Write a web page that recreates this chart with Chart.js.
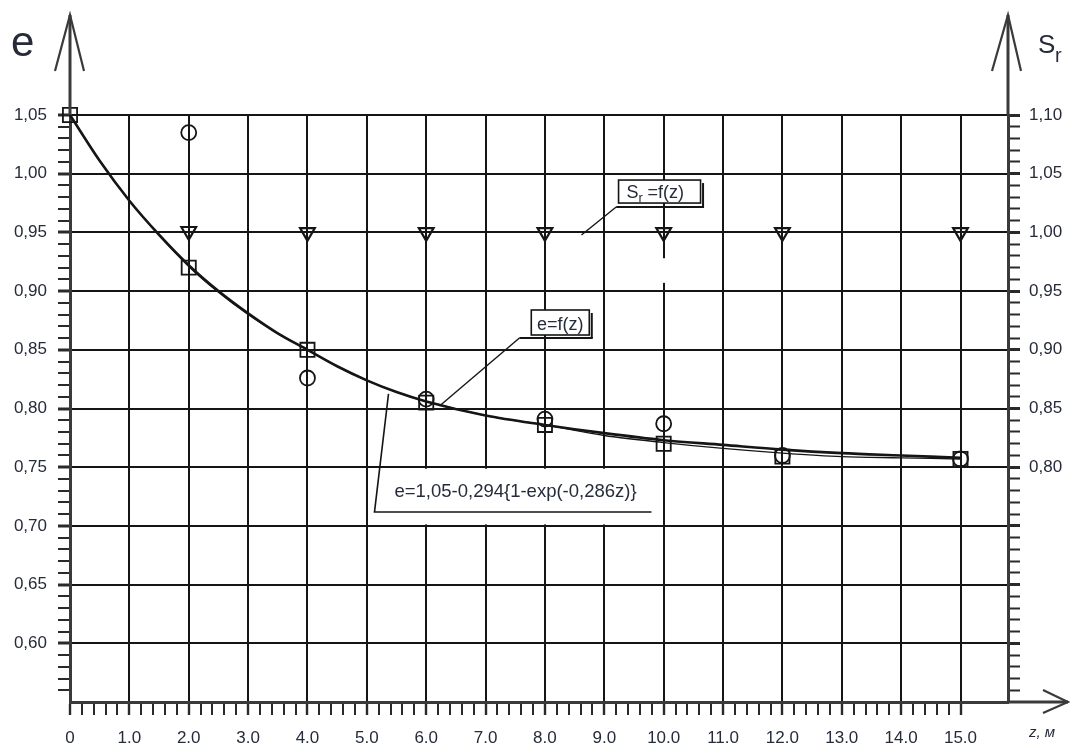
<!DOCTYPE html>
<html>
<head>
<meta charset="utf-8">
<script src="https://cdn.jsdelivr.net/npm/chart.js@4.4.1/dist/chart.umd.min.js"></script>
<style>
  html, body { margin: 0; padding: 0; background: #fff; }
  canvas { display: block; }
</style>
</head>
<body>
<canvas id="c" width="1070" height="743"></canvas>
<script>
// Depth z (m) of the sampling points and measured void ratio e
const zSamples = [0, 2, 4, 6, 8, 10, 12, 15];
const eSquares = [1.050, 0.920, 0.850, 0.805, 0.786, 0.770, 0.759, 0.757];

// Second set of e values (circles)
const zCircles = [2, 4, 6, 8, 10, 12, 15];
const eCircles = [1.035, 0.826, 0.808, 0.791, 0.787, 0.760, 0.757];

// Degree of saturation Sr (triangles, right axis)
const zSr = [2, 4, 6, 8, 10, 12, 15];
const srValues = [1.001, 1.000, 1.000, 1.000, 1.000, 1.000, 1.000];

// Approximating curve e = f(z)
const zCurve = [0, 0.5, 1, 1.5, 2, 2.5, 3, 3.5, 4, 4.5, 5, 5.5, 6, 7, 8, 9, 10, 11, 12, 13, 14, 15];
const eCurve = [1.050, 1.011, 0.977, 0.948, 0.922, 0.900, 0.881, 0.864, 0.850, 0.836, 0.824, 0.814, 0.806, 0.794, 0.786, 0.779, 0.773, 0.769, 0.765, 0.762, 0.760, 0.758];

// Thin line drawn through the measured points
const zThin = [0, 0.5, 1, 1.5, 2, 2.5, 3, 3.5, 4, 4.5, 5, 5.5, 6, 7, 8, 9, 10, 11, 12, 13, 14, 15];
const eThin = [1.050, 1.011, 0.977, 0.948, 0.921, 0.899, 0.880, 0.864, 0.850, 0.836, 0.824, 0.814, 0.806, 0.794, 0.786, 0.777, 0.771, 0.766, 0.762, 0.759, 0.758, 0.757];

// Tick labels
const xTickLabels = ['0', '1.0', '2.0', '3.0', '4.0', '5.0', '6.0', '7.0', '8.0', '9.0', '10.0', '11.0', '12.0', '13.0', '14.0', '15.0'];
const eTickLabels = ['0,60', '0,65', '0,70', '0,75', '0,80', '0,85', '0,90', '0,95', '1,00', '1,05'];
const srTickLabels = ['0,80', '0,85', '0,90', '0,95', '1,00', '1,05', '1,10'];

const ink = '#151515';
const axisInk = '#3a3a3a';
const textInk = '#262b3a';
const fam = "'Liberation Sans', Arial, sans-serif";
const none = 'rgba(0,0,0,0)';

const isMult = (v, step) => Math.abs(v / step - Math.round(v / step)) < 1e-6;
const pts = (xs, ys) => xs.map((x, i) => ({ x, y: ys[i] }));
const stepTicks = (from, to, step) => {
  const n = Math.round((to - from) / step);
  const out = [];
  for (let i = 0; i <= n; i++) out.push({ value: Math.round((from + i * step) * 1000) / 1000 });
  return out;
};

// Callout positions, in data units (z, e)
const callouts = {
  sr:      { boxZ: 9.24, boxE: 0.9946, w: 82, h: 23, lineZ: 9.20, lineE: 0.9716, endZ: 8.615, endE: 0.9478 },
  ef:      { boxZ: 7.77, boxE: 0.8839, w: 58, h: 25, lineZ: 7.57, lineE: 0.8601, endZ: 6.224, endE: 0.8021 },
  formula: { topZ: 5.365, topE: 0.8124, cornerZ: 5.129, cornerE: 0.7118, endZ: 9.794, textZ: 5.465, textE: 0.7243 }
};

const overlay = {
  id: 'overlay',
  beforeDatasetsDraw(chart) {
    const { ctx, scales: { x, y } } = chart;
    ctx.save();
    ctx.fillStyle = '#fff';
    // small break in the z = 10 grid line
    const px = x.getPixelForValue(10);
    const y1 = y.getPixelForValue(0.928), y2 = y.getPixelForValue(0.907);
    ctx.fillRect(px - 2, y1, 4, y2 - y1);
    // clear field behind the equation
    const f = callouts.formula;
    const l = x.getPixelForValue(f.cornerZ) + 1, r = x.getPixelForValue(f.endZ);
    const t = y.getPixelForValue(0.75) + 1.5, b = y.getPixelForValue(0.70) - 1.5;
    ctx.fillRect(l, t, r - l, b - t);
    ctx.restore();
  },
  afterDraw(chart) {
    const { ctx, chartArea: a, scales: { x, y } } = chart;
    const line = (pts, w, c) => {
      ctx.beginPath();
      ctx.moveTo(pts[0][0], pts[0][1]);
      for (let i = 1; i < pts.length; i++) ctx.lineTo(pts[i][0], pts[i][1]);
      ctx.lineWidth = w; ctx.strokeStyle = c || axisInk; ctx.stroke();
    };
    ctx.save();
    ctx.lineCap = 'butt';

    // axis extensions with open arrow heads
    const tipY = a.top - 100;
    line([[a.left, a.top], [a.left, tipY]], 3);
    line([[a.left - 15, tipY + 56], [a.left, tipY], [a.left + 14, tipY + 56]], 2.2);
    line([[a.right, a.top], [a.right, tipY]], 3);
    line([[a.right - 16, tipY + 56], [a.right, tipY], [a.right + 13, tipY + 56]], 2.2);
    const tipX = a.right + 60;
    line([[a.right, a.bottom], [tipX, a.bottom]], 3);
    line([[tipX - 25, a.bottom - 12], [tipX, a.bottom], [tipX - 25, a.bottom + 11]], 2.2);

    // axis titles
    ctx.fillStyle = textInk;
    ctx.textBaseline = 'alphabetic';
    ctx.textAlign = 'left';
    ctx.font = `42px ${fam}`;
    ctx.fillText('e', a.left - 59, tipY + 41);
    ctx.font = `26px ${fam}`;
    ctx.fillText('S', a.right + 30, tipY + 38);
    ctx.font = `20px ${fam}`;
    ctx.fillText('r', a.right + 47, tipY + 47);
    ctx.font = `italic 15px ${fam}`;
    ctx.fillText('z, м', tipX - 39, a.bottom + 35);

    // boxed callouts
    const drawBox = (c, text, sub) => {
      const bx = x.getPixelForValue(c.boxZ), by = y.getPixelForValue(c.boxE);
      const lx = x.getPixelForValue(c.lineZ), ly = y.getPixelForValue(c.lineE);
      ctx.fillStyle = '#fff';
      ctx.fillRect(bx, by, c.w, c.h);
      ctx.strokeStyle = ink; ctx.lineWidth = 1.6;
      ctx.strokeRect(bx, by, c.w, c.h);
      line([[bx + c.w + 2.5, by + 3], [bx + c.w + 2.5, ly]], 2, ink);
      line([[lx, ly], [bx + c.w + 3.5, ly]], 2, ink);
      line([[lx, ly], [x.getPixelForValue(c.endZ), y.getPixelForValue(c.endE)]], 1.4, ink);
      ctx.fillStyle = textInk;
      ctx.textBaseline = 'alphabetic';
      ctx.textAlign = 'left';
      ctx.font = `18px ${fam}`;
      const tx = bx + 8, ty = by + c.h - 5;
      if (sub) {
        ctx.fillText('S', tx, ty);
        const sw = ctx.measureText('S').width;
        ctx.font = `13px ${fam}`;
        ctx.fillText('r', tx + sw, ty + 4);
        ctx.font = `18px ${fam}`;
        ctx.fillText(text, tx + sw + 9, ty);
      } else {
        ctx.textAlign = 'center';
        ctx.fillText(text, bx + c.w / 2, ty);
      }
    };
    drawBox(callouts.sr, '=f(z)', true);
    drawBox(callouts.ef, 'e=f(z)', false);

    // callout: fitted equation
    const f = callouts.formula;
    const cx = x.getPixelForValue(f.cornerZ), cy = y.getPixelForValue(f.cornerE);
    line([[x.getPixelForValue(f.topZ), y.getPixelForValue(f.topE)], [cx, cy], [x.getPixelForValue(f.endZ), cy]], 1.6, ink);
    ctx.fillStyle = textInk;
    ctx.textAlign = 'left';
    ctx.font = `18.5px ${fam}`;
    ctx.fillText('e=1,05-0,294{1-exp(-0,286z)}', x.getPixelForValue(f.textZ), y.getPixelForValue(f.textE));

    ctx.restore();
  }
};

const tickFont = { family: fam, size: 17 };

new Chart(document.getElementById('c'), {
  type: 'scatter',
  data: {
    datasets: [
      {
        label: 'e = f(z)',
        data: pts(zCurve, eCurve),
        showLine: true,
        cubicInterpolationMode: 'monotone',
        borderColor: ink,
        borderWidth: 2.6,
        pointRadius: 0,
        yAxisID: 'y',
        clip: false
      },
      {
        label: 'e, line through points',
        data: pts(zThin, eThin),
        showLine: true,
        cubicInterpolationMode: 'monotone',
        borderColor: ink,
        borderWidth: 1.3,
        pointRadius: 0,
        yAxisID: 'y',
        clip: false
      },
      {
        label: 'e (squares)',
        data: pts(zSamples, eSquares),
        showLine: false,
        pointStyle: 'rect',
        pointRadius: 10,
        pointBorderWidth: 1.8,
        pointBorderColor: ink,
        pointBackgroundColor: none,
        yAxisID: 'y',
        clip: false
      },
      {
        label: 'e (circles)',
        data: pts(zCircles, eCircles),
        showLine: false,
        pointStyle: 'circle',
        pointRadius: 7.5,
        pointBorderWidth: 1.8,
        pointBorderColor: ink,
        pointBackgroundColor: none,
        yAxisID: 'y',
        clip: false
      },
      {
        label: 'Sr = f(z)',
        data: pts(zSr, srValues),
        showLine: false,
        pointStyle: 'triangle',
        rotation: 180,
        pointRadius: 8.5,
        pointBorderWidth: 2.2,
        pointBorderColor: ink,
        pointBackgroundColor: none,
        yAxisID: 'ySr',
        clip: false
      }
    ]
  },
  options: {
    responsive: false,
    animation: false,
    devicePixelRatio: 1,
    events: [],
    layout: { padding: { top: 115, left: 0, right: 0, bottom: 0 } },
    plugins: { legend: { display: false }, tooltip: { enabled: false } },
    scales: {
      x: {
        type: 'linear',
        position: 'bottom',
        min: 0,
        max: 15.8,
        afterFit: s => { s.height = 41; },
        afterBuildTicks: s => { s.ticks = stepTicks(0, 15, 0.2); },
        border: { display: true, color: axisInk, width: 3 },
        grid: {
          drawTicks: true,
          tickLength: 13,
          color: c => (c.tick && c.tick.value > 0.5 && isMult(c.tick.value, 1)) ? ink : none,
          lineWidth: 2,
          tickColor: '#2a2a2a',
          tickWidth: c => (c.tick && isMult(c.tick.value, 1)) ? 2.4 : 2
        },
        ticks: {
          autoSkip: false,
          maxRotation: 0,
          padding: 13,
          color: textInk,
          font: tickFont,
          callback: v => isMult(v, 1) ? xTickLabels[Math.round(v)] : ''
        }
      },
      y: {
        type: 'linear',
        position: 'left',
        min: 0.55,
        max: 1.05,
        afterFit: s => { s.width = 70; },
        afterBuildTicks: s => { s.ticks = stepTicks(0.56, 1.05, 0.01); },
        border: { display: true, color: axisInk, width: 3 },
        grid: {
          drawTicks: true,
          tickLength: 12,
          color: c => (c.tick && isMult(c.tick.value, 0.05)) ? ink : none,
          lineWidth: 2,
          tickColor: '#2a2a2a',
          tickWidth: c => (c.tick && isMult(c.tick.value, 0.05)) ? 3 : 2
        },
        ticks: {
          autoSkip: false,
          padding: 11,
          color: textInk,
          font: tickFont,
          callback: v => isMult(v, 0.05) ? eTickLabels[Math.round((v - 0.60) / 0.05)] : ''
        }
      },
      ySr: {
        type: 'linear',
        position: 'right',
        min: 0.60,
        max: 1.10,
        afterFit: s => { s.width = 62; },
        afterBuildTicks: s => { s.ticks = stepTicks(0.61, 1.10, 0.01); },
        border: { display: true, color: axisInk, width: 3 },
        grid: {
          drawOnChartArea: false,
          drawTicks: true,
          tickLength: 12,
          tickColor: '#2a2a2a',
          tickWidth: c => (c.tick && isMult(c.tick.value, 0.05)) ? 3 : 2
        },
        ticks: {
          autoSkip: false,
          padding: 9,
          color: textInk,
          font: tickFont,
          callback: v => (v > 0.799 && isMult(v, 0.05)) ? srTickLabels[Math.round((v - 0.80) / 0.05)] : ''
        }
      }
    }
  },
  plugins: [overlay]
});
</script>
</body>
</html>
